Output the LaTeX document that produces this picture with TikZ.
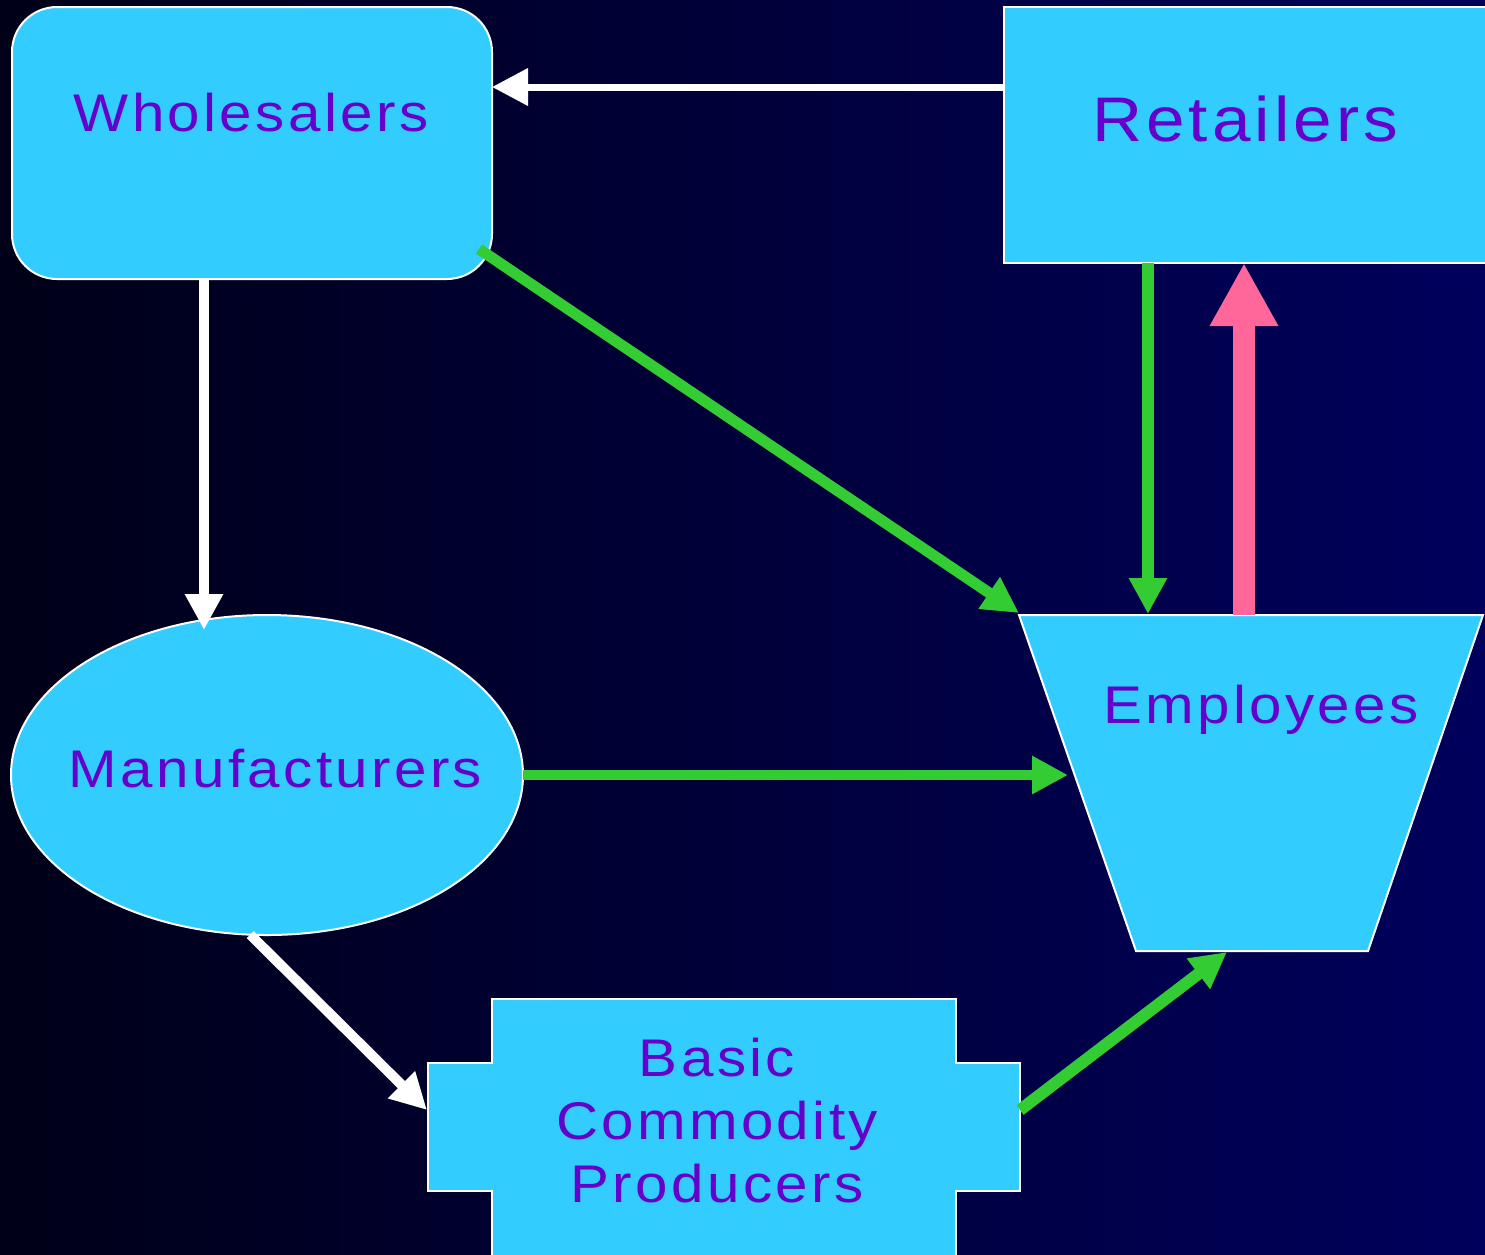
\documentclass[tikz,border=0pt]{standalone}
\usepackage{fontspec}
\setmainfont{Liberation Sans}[LetterSpace=6.4, FakeStretch=1.1]
\usetikzlibrary{arrows.meta,shapes.geometric,calc}

\definecolor{skyfill}{RGB}{51,204,255}
\definecolor{inkpurple}{RGB}{102,0,204}
\definecolor{flowgreen}{RGB}{51,204,51}
\definecolor{flowpink}{RGB}{255,102,153}

\begin{document}
\begin{tikzpicture}[x=1pt, y=-1pt,
    box/.style={draw=white, line width=2pt, fill=skyfill, inner sep=0pt, outer sep=0pt},
    lbl/.style={text=inkpurple, anchor=base, align=center, font=\fontsize{53}{63}\selectfont},
    white/.style={draw=white, line width=#1, -{Triangle[length=36pt, width=36pt]}},
    green/.style={draw=flowgreen, line width=#1, -{Triangle[length=36pt, width=36pt]}},
    pink/.style={draw=flowpink, line width=22pt, -{Triangle[length=63pt, width=64pt]}}]
    \useasboundingbox (0,0) rectangle (1485,1254);
    \shade[left color={rgb,255:red,0;green,0;blue,24}, right color={rgb,255:red,0;green,0;blue,92}]
        (0,0) rectangle (1485,1254);
    \clip (0,0) rectangle (1485,1254);

    % the five trades
    \node[box, rectangle, rounded corners=45pt, minimum width=480pt, minimum height=272pt] (whole) at (252,143) {};
    \node[box, rectangle, minimum width=483pt, minimum height=256pt] (retail) at (1245.5,135) {};
    \node[box, ellipse, minimum width=512pt, minimum height=320pt] (manuf) at (267,775) {};
    \draw[box] (1019,615) coordinate (employ-nw) -- (1483,615) coordinate (employ-ne)
        -- (1368,951) coordinate (employ-se) -- (1136,951) coordinate (employ-sw) -- cycle;
    \draw[box] (492,999) -- (956,999) -- (956,1063) -- (1020,1063) -- (1020,1191) -- (956,1191)
        -- (956,1262) -- (492,1262) -- (492,1191) -- (428,1191) -- (428,1063) -- (492,1063) -- cycle;
    \coordinate (bcp-w) at (427,1110);
    \coordinate (bcp-e) at (1020,1110);

    \node[lbl] (whole-t) at (251,131) {Wholesalers};
    \node[lbl, font=\fontsize{63}{70}\selectfont] (retail-t) at (1245,141) {Retailers};
    \node[lbl] (manuf-t) at (275.5,787) {Manufacturers};
    \node[lbl] (employ-t) at (1261,723) {Employees};
    \node[lbl] (bcp) at (717,1202) {Basic\\Commodity\\Producers};

    % flows
    \draw[white=7pt] ($(retail.west)+(0,-48)$) -- ($(whole.east)+(0,-56)$);
    \draw[white=10pt] ($(whole.south)+(-48,0)$) -- ($(manuf.north)+(-63,15)$);
    \draw[white=10pt] (manuf.264.6) -- (bcp-w);
    \draw[green=11pt] ($(whole.center)+(227,106)$) -- ($(employ-nw)+(0,-2)$);
    \draw[green=12pt] ($(retail.south)+(-97.5,0)$) -- ($(employ-nw)+(129,-1)$);
    \draw[pink] ($(employ-nw)+(225,0)$) -- ($(retail.south)+(-1.5,0)$);
    \draw[green=10pt] (manuf.east) -- ($(employ-nw)+(49,160)$);
    \draw[green=12pt] (bcp-e) -- ($(employ-sw)+(91,1)$);
\end{tikzpicture}
\end{document}
